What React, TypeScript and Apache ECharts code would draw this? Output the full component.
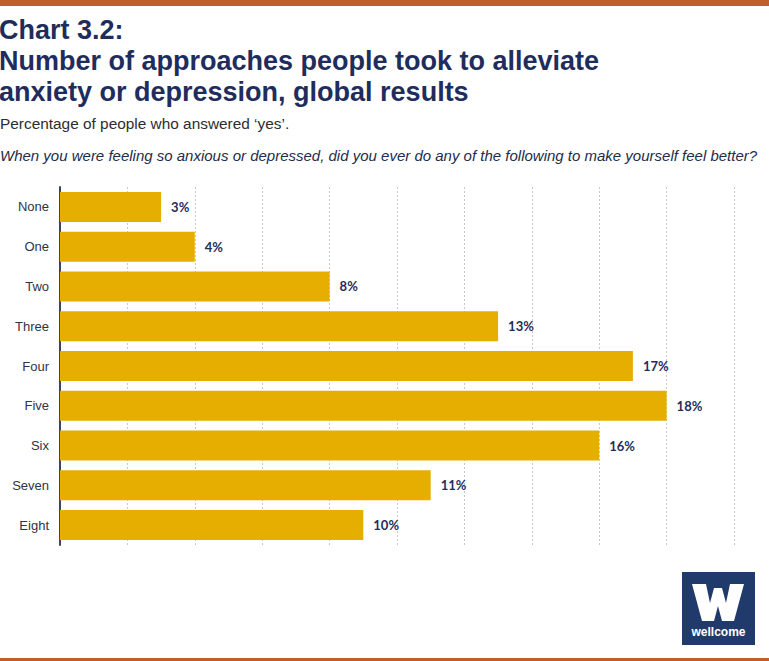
import React, { useEffect, useRef } from "react";
import * as echarts from "echarts";

const categories = ["None", "One", "Two", "Three", "Four", "Five", "Six", "Seven", "Eight"];
const values = [3, 4, 8, 13, 17, 18, 16, 11, 9];
const valueLabels = ["3%", "4%", "8%", "13%", "17%", "18%", "16%", "11%", "10%"];
const titleLines = [
  "Chart 3.2:",
  "Number of approaches people took to alleviate",
  "anxiety or depression, global results",
];
const subtitle = "Percentage of people who answered \u2018yes\u2019.";
const question =
  "When you were feeling so anxious or depressed, did you ever do any of the following to make yourself feel better?";

const NAVY = "#1f2d5c";
const ORANGE = "#c05f27";
const GOLD = "#e6ae00";

export default function App() {
  const ref = useRef<HTMLDivElement>(null);
  useEffect(() => {
    if (!ref.current) return;
    const chart = echarts.init(ref.current, null, { renderer: "svg" });
    chart.setOption({
      animation: false,
      backgroundColor: "#ffffff",
      title: {
        text: titleLines.join("\n"),
        left: -1,
        top: 14,
        padding: 0,
        textStyle: {
          fontFamily: "Liberation Sans",
          fontWeight: "bold",
          fontSize: 27,
          lineHeight: 31,
          color: NAVY,
        },
      },
      grid: { left: 60, right: 35, top: 187, height: 358, containLabel: false },
      xAxis: {
        type: "value",
        min: 0,
        max: 20,
        interval: 2,
        axisLabel: { show: false },
        axisLine: { show: false },
        axisTick: { show: false },
        splitLine: { show: true, lineStyle: { color: "#c8c8c8", type: [2, 2], width: 1 } },
      },
      yAxis: {
        type: "category",
        data: categories,
        inverse: true,
        axisLine: { show: true, lineStyle: { color: "#3a4560", width: 2 } },
        axisTick: { show: false },
        axisLabel: {
          fontFamily: "Liberation Sans",
          fontSize: 13,
          color: "#2e3448",
          margin: 11,
        },
      },
      series: [
        {
          type: "bar",
          data: values,
          barWidth: 30,
          itemStyle: { color: GOLD },
          label: {
            show: true,
            position: "right",
            distance: 10,
            formatter: (p: any) => valueLabels[p.dataIndex],
            fontFamily: "Lato",
            fontWeight: "bold",
            fontSize: 13,
            color: NAVY,
          },
        },
      ],
      graphic: [
        { type: "rect", shape: { x: 0, y: 0, width: 769, height: 6 }, style: { fill: ORANGE } },
        { type: "rect", shape: { x: 0, y: 658, width: 769, height: 3 }, style: { fill: ORANGE } },
        {
          type: "text",
          x: 0,
          y: 116,
          style: {
            text: subtitle,
            fontFamily: "Liberation Sans",
            fontSize: 15.4,
            fill: "#2d2d2d",
            textVerticalAlign: "top",
          },
        },
        {
          type: "text",
          x: 0,
          y: 148,
          style: {
            text: question,
            fontFamily: "Liberation Sans",
            fontStyle: "italic",
            fontSize: 15,
            fill: "#232c4a",
            textVerticalAlign: "top",
          },
        },
        {
          type: "group",
          x: 682,
          y: 572,
          children: [
            { type: "rect", shape: { x: 0, y: 0, width: 73, height: 73 }, style: { fill: "#1f3a6b" } },
            {
              type: "polygon",
              shape: {
                points: [
                  [10, 12], [24, 12], [28, 31], [32, 16], [40, 16], [44, 31], [48, 12], [62, 12],
                  [52, 49], [40, 49], [36, 34], [32, 49], [20, 49],
                ],
              },
              style: { fill: "#ffffff" },
            },
            {
              type: "text",
              x: 36.5,
              y: 60,
              style: {
                text: "wellcome",
                fontFamily: "Liberation Sans",
                fontWeight: "bold",
                fontSize: 12,
                fill: "#ffffff",
                align: "center",
                verticalAlign: "middle",
              },
            },
          ],
        },
      ],
    });
    return () => chart.dispose();
  }, []);
  return (
    <div
      ref={ref}
      style={{ position: "fixed", left: 0, top: 0, width: 769, height: 661, background: "#fff" }}
    />
  );
}
